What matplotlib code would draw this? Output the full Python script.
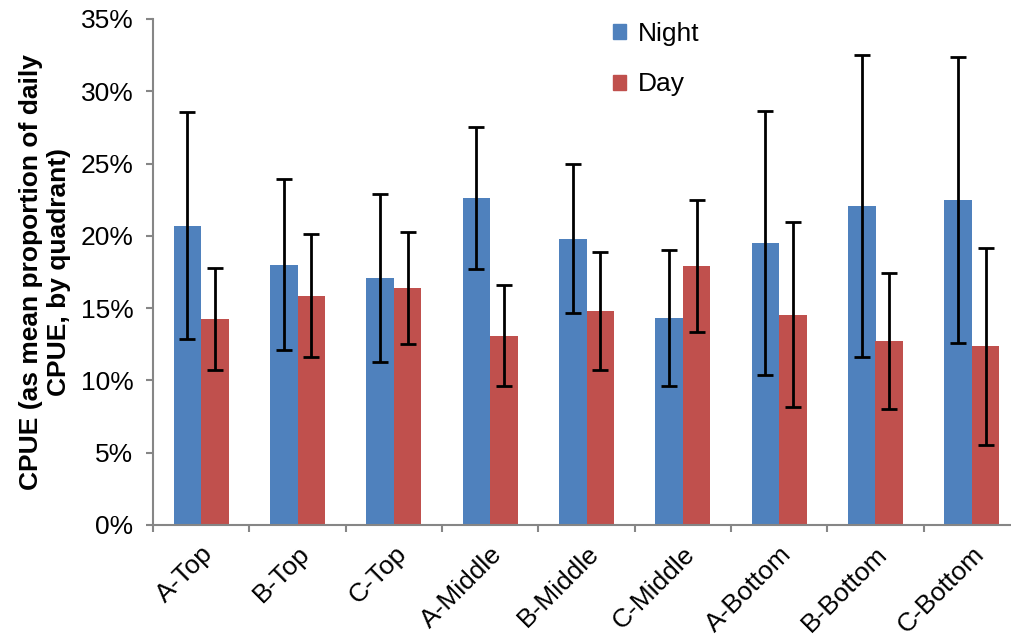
import numpy as np
import matplotlib
matplotlib.use("Agg")
import matplotlib.pyplot as plt
from matplotlib.patches import Patch
from matplotlib.ticker import FuncFormatter, MultipleLocator, FixedLocator

plt.rcParams['font.family'] = ['Liberation Sans', 'DejaVu Sans']

# data
categories = ['A-Top', 'B-Top', 'C-Top', 'A-Middle', 'B-Middle', 'C-Middle',
              'A-Bottom', 'B-Bottom', 'C-Bottom']
night = [20.7, 18.0, 17.1, 22.6, 19.8, 14.3, 19.5, 22.05, 22.5]
night_err = [7.85, 5.9, 5.8, 4.9, 5.15, 4.7, 9.15, 10.45, 9.9]
day = [14.25, 15.85, 16.4, 13.1, 14.8, 17.9, 14.55, 12.75, 12.35]
day_err = [3.5, 4.25, 3.9, 3.5, 4.05, 4.55, 6.4, 4.7, 6.8]

blue = '#4F81BD'
red = '#C0504D'
grey = '#868686'
fs = 19

fig = plt.figure(figsize=(10.11, 6.43), dpi=100)
ax = fig.add_axes([153 / 1011, 118 / 643, 867 / 1011, 506 / 643])

x = np.arange(len(categories))
w = 0.285
ekw = dict(ecolor='black', elinewidth=2.0, capsize=6, capthick=2.0)
ax.bar(x - w / 2, night, w, color=blue, yerr=night_err, error_kw=ekw, zorder=2)
ax.bar(x + w / 2, day, w, color=red, yerr=day_err, error_kw=ekw, zorder=2)

ax.set_xlim(-0.5, 8.5)
ax.set_ylim(0, 35)
ax.yaxis.set_major_locator(MultipleLocator(5))
ax.yaxis.set_major_formatter(FuncFormatter(lambda v, p: '%d%%' % v))

# Excel-style: tick marks between categories, labels at centres
ax.xaxis.set_major_locator(FixedLocator(np.arange(-0.5, 9, 1.0)))
ax.xaxis.set_major_formatter(FuncFormatter(lambda v, p: ''))
ax.xaxis.set_minor_locator(FixedLocator(x))
ax.set_xticklabels(categories, minor=True, rotation=45, ha='right',
                   rotation_mode='anchor', fontsize=fs)
ax.tick_params(axis='x', which='minor', length=0, pad=12)
ax.tick_params(axis='x', which='major', length=5, width=1.5, color=grey, direction='out')
ax.tick_params(axis='y', length=5, width=1.5, color=grey, direction='out',
               labelsize=fs, pad=9)

for s in ['top', 'right']:
    ax.spines[s].set_visible(False)
for s in ['left', 'bottom']:
    ax.spines[s].set_color(grey)
    ax.spines[s].set_linewidth(1.5)

fig.text(45 / 1011, 1 - 272 / 643, 'CPUE (as mean proportion of daily\nCPUE, by quadrant)',
         rotation=90, ha='center', va='center', fontsize=fs, fontweight='bold',
         multialignment='center', linespacing=1.2)

handles = [Patch(color=blue, label='Night'), Patch(color=red, label='Day')]
fig.legend(handles=handles, loc='upper left', bbox_to_anchor=(613 / 1011, 1 - 22 / 643),
           frameon=False, fontsize=fs, handlelength=0.5, handleheight=0.5,
           handletextpad=0.45, labelspacing=1.0, borderpad=0, borderaxespad=0)

fig.savefig('out.png', dpi=100)
